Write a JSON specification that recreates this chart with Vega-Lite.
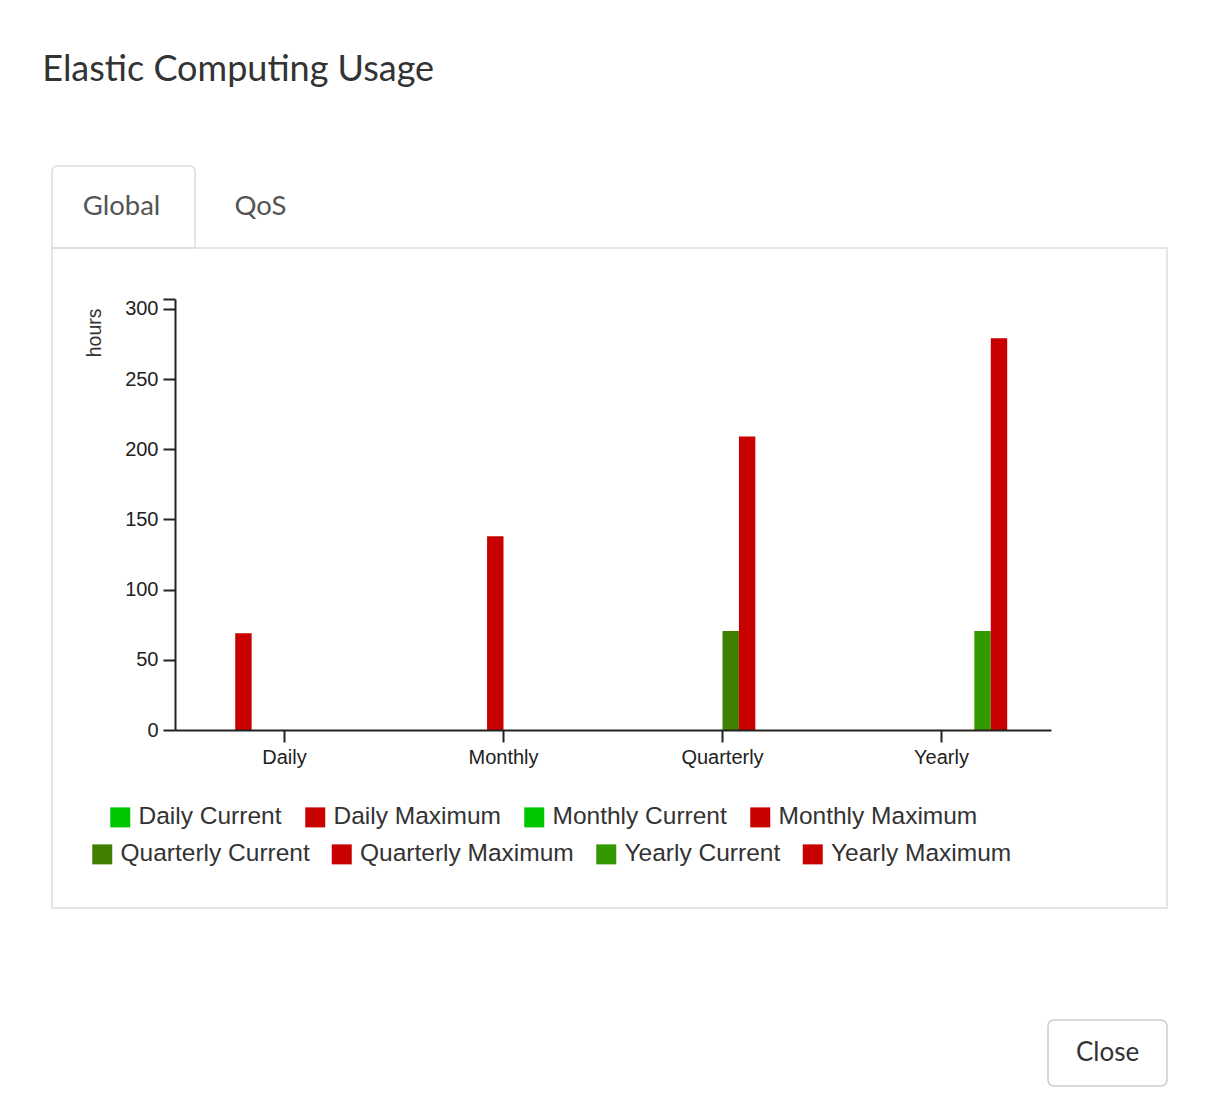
{
  "$schema": "https://vega.github.io/schema/vega-lite/v6.json",
  "background": "white",
  "padding": {"left": 42, "top": 52, "right": 0, "bottom": 0},
  "autosize": {"type": "pad"},
  "title": {"text": "Elastic Computing Usage", "anchor": "start", "dx": -9, "fontSize": 36, "font": "Lato", "fontWeight": "normal", "color": "#333333", "offset": 76},
  "bounds": "flush",
  "spacing": 0,
  "resolve": {"scale": {"x": "independent", "y": "independent", "color": "independent", "fill": "independent"}},
  "config": {"view": {"stroke": null}, "font": "Liberation Sans"},
  "vconcat": [
    {
      "width": 286,
      "height": 82,
      "data": {"values": [{"tab": "Global", "active": "yes"}, {"tab": "QoS", "active": "no"}]},
      "resolve": {"scale": {"x": "independent"}},
      "layer": [
        {
          "transform": [{"filter": "datum.active == 'yes'"}],
          "mark": {"type": "rect", "fill": "white", "stroke": "#dddddd", "strokeWidth": 1.5, "cornerRadiusTopLeft": 5, "cornerRadiusTopRight": 5},
          "encoding": {"x": {"field": "tab", "type": "nominal", "scale": {"domain": ["Global", "QoS"], "paddingInner": 0, "paddingOuter": 0}, "axis": null}}
        },
        {
          "mark": {"type": "text", "font": "Lato", "fontSize": 27.5, "color": "#555555"},
          "encoding": {"x": {"field": "tab", "type": "nominal", "scale": {"domain": ["Global", "QoS"], "range": [0, 278], "paddingInner": 0, "paddingOuter": 0}, "axis": null}, "text": {"field": "tab"}}
        }
      ]
    },
    {
      "width": 1115,
      "height": 660,
      "view": {"stroke": "#dddddd", "strokeWidth": 1.5},
      "data": {"values": [
        {"period": "Daily", "series": "Daily Maximum", "hours": 69},
        {"period": "Monthly", "series": "Monthly Maximum", "hours": 138},
        {"period": "Quarterly", "series": "Quarterly Current", "hours": 70.5},
        {"period": "Quarterly", "series": "Quarterly Maximum", "hours": 209},
        {"period": "Yearly", "series": "Yearly Current", "hours": 70.5},
        {"period": "Yearly", "series": "Yearly Maximum", "hours": 279}
      ]},
      "encoding": {
        "x": {
          "field": "period", "type": "nominal",
          "scale": {"domain": ["Daily", "Monthly", "Quarterly", "Yearly"], "range": [123, 999], "paddingInner": 0.4, "paddingOuter": 0.2},
          "axis": {"title": null, "labelAngle": 0, "offset": -178, "zindex": 1, "domainColor": "#222222", "domainWidth": 2, "tickColor": "#222222", "tickWidth": 2, "tickSize": 12, "labelFontSize": 20, "labelColor": "#222222", "labelPadding": 5}
        },
        "xOffset": {
          "field": "series",
          "scale": {"domain": ["Daily Current", "Daily Maximum", "Monthly Current", "Monthly Maximum", "Quarterly Current", "Quarterly Maximum", "Yearly Current", "Yearly Maximum"], "paddingInner": 0, "paddingOuter": 0}
        },
        "y": {
          "field": "hours", "type": "quantitative",
          "scale": {"domain": [0, 307], "nice": false, "range": [482, 51]},
          "axis": {"title": "hours", "offset": -123, "zindex": 1, "grid": false, "values": [0, 50, 100, 150, 200, 250, 300, 307], "labelExpr": "datum.value > 300 ? '' : datum.label", "domainColor": "#222222", "domainWidth": 2, "tickColor": "#222222", "tickWidth": 2, "tickSize": 12, "labelFontSize": 20, "labelColor": "#222222", "labelPadding": 5, "titleFontSize": 19.5, "titleFontWeight": "normal", "titleColor": "#333333", "titleX": -81, "titleY": 60, "titleAlign": "right", "titleBaseline": "middle", "titleAngle": -90}
        }
      },
      "layer": [
        {
          "transform": [{"filter": {"field": "series", "oneOf": ["Daily Current", "Daily Maximum", "Monthly Current", "Monthly Maximum"]}}],
          "mark": {"type": "bar"},
          "encoding": {
            "color": {
              "field": "series", "type": "nominal",
              "scale": {"domain": ["Daily Current", "Daily Maximum", "Monthly Current", "Monthly Maximum"], "range": ["#00c800", "#c80000", "#00c800", "#c80000"]},
              "legend": {"orient": "none", "legendX": 56, "legendY": 557, "direction": "horizontal", "title": null, "symbolType": "square", "symbolSize": 400, "symbolStrokeWidth": 0, "symbolOpacity": 1, "labelFontSize": 24.5, "labelColor": "#333333", "labelOffset": 6, "columnPadding": 21, "labelLimit": 400, "padding": 0}
            }
          }
        },
        {
          "transform": [{"filter": {"field": "series", "oneOf": ["Quarterly Current", "Quarterly Maximum", "Yearly Current", "Yearly Maximum"]}}],
          "mark": {"type": "bar"},
          "encoding": {
            "fill": {
              "field": "series", "type": "nominal",
              "scale": {"domain": ["Quarterly Current", "Quarterly Maximum", "Yearly Current", "Yearly Maximum"], "range": ["#408000", "#c80000", "#339900", "#c80000"]},
              "legend": {"orient": "none", "legendX": 38, "legendY": 594, "direction": "horizontal", "title": null, "symbolType": "square", "symbolSize": 400, "symbolStrokeWidth": 0, "symbolOpacity": 1, "labelFontSize": 24.5, "labelColor": "#333333", "labelOffset": 6, "columnPadding": 19.5, "labelLimit": 400, "padding": 0}
            }
          }
        }
      ]
    },
    {
      "width": 1115,
      "height": 178,
      "data": {"values": [{"button": "Close"}]},
      "encoding": {
        "x": {"field": "button", "type": "nominal", "scale": {"range": [996, 1115], "paddingInner": 0, "paddingOuter": 0}, "axis": null},
        "y": {"field": "button", "type": "nominal", "scale": {"range": [112, 178], "paddingInner": 0, "paddingOuter": 0}, "axis": null}
      },
      "layer": [
        {"mark": {"type": "rect", "fill": "white", "stroke": "#cccccc", "strokeWidth": 1.5, "cornerRadius": 6}},
        {"mark": {"type": "text", "font": "Lato", "fontSize": 26, "color": "#333333"}, "encoding": {"text": {"field": "button"}}}
      ]
    }
  ]
}
